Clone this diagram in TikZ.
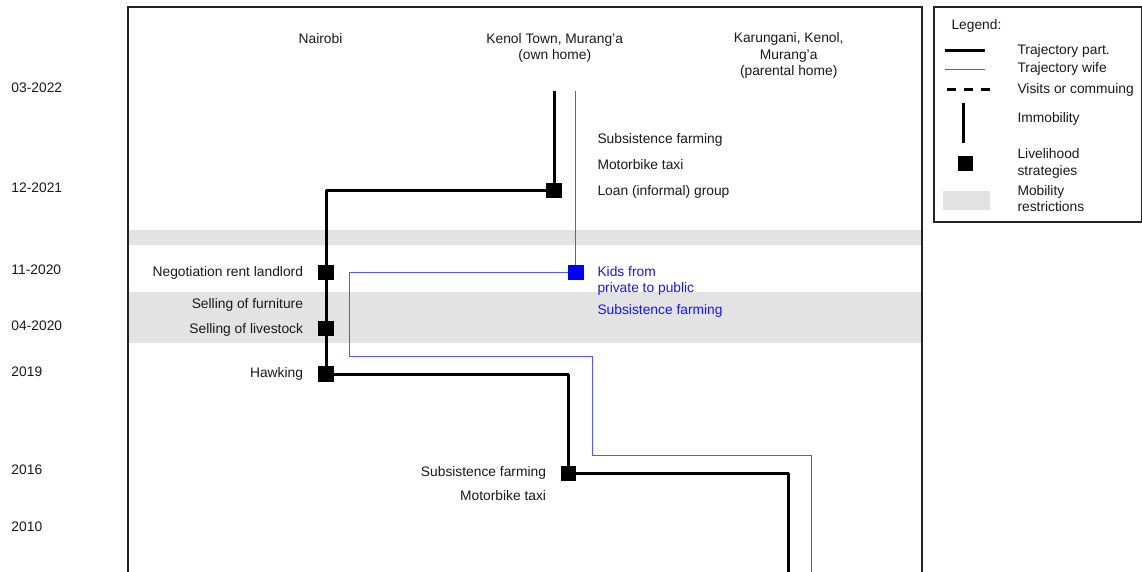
\documentclass[tikz,border=0pt]{standalone}
\usepackage{fontspec}
\setmainfont{Liberation Sans}
\definecolor{bandgray}{HTML}{E3E3E3}
\definecolor{wifeline}{RGB}{85,85,255}
\definecolor{wifetext}{RGB}{20,20,255}
\definecolor{framegray}{HTML}{222222}
\pgfdeclarelayer{bands}
\pgfdeclarelayer{links}
\pgfsetlayers{bands,links,main}
\begin{document}
\begin{tikzpicture}[x=1pt,y=-1pt,
  every node/.style={inner sep=0pt,outer sep=0pt,
    font=\fontsize{13.8}{16.3}\selectfont},
  multi/.style={align=center,anchor=north},
  txt/.style={text=black!90},
  wtxt/.style={text=wifetext},
  frameline/.style={draw=framegray,line width=1.3pt},
  traj/.style={draw=black,line width=3pt,line join=round},
  wife/.style={draw=wifeline,line width=1pt},
  strat/.style={fill=black,minimum size=15.5pt},
  wstrat/.style={fill=blue,minimum size=15.5pt},
  band/.style={fill=bandgray}]
\useasboundingbox (0,0) rectangle (1142,571);
\clip (0,0) rectangle (1142,571);

% restriction periods
\begin{pgfonlayer}{bands}
  \path[band] (128,229.5) rectangle (922,244.5);
  \path[band] (128,292) rectangle (922,343);
\end{pgfonlayer}

% time frame
\draw[frameline] (128,590) -- (128,7) -- (922,7) -- (922,590);

% places
\node[txt,anchor=base] (nairobi) at (320.5,43.3) {Nairobi};
\node[txt,multi] (kenol) at (554.7,33.4) {Kenol Town, Murang’a\\(own home)};
\node[txt,multi] (karungani) at (788.7,32.8) {Karungani, Kenol,\\Murang’a\\(parental home)};

% dates
\begin{scope}[every node/.append style={txt,anchor=base west}]
  \node (d1) at (11.5,92.3) {03-2022};
  \node (d2) at (11.5,192.3) {12-2021};
  \node (d3) at (11.5,274.5) {11-2020};
  \node (d4) at (11.5,330.7) {04-2020};
  \node (d5) at (11.5,376) {2019};
  \node (d6) at (11.5,474.5) {2016};
  \node (d7) at (11.5,531) {2010};
\end{scope}

% livelihood strategies of the participant
\node[strat] (loan) at (554,190.5) {};
\node[strat] (rent) at (326,272.3) {};
\node[strat] (sell) at (326,328.5) {};
\node[strat] (hawk) at (326,374) {};
\node[strat] (farm) at (568.5,473.5) {};

% livelihood strategy of the wife
\node[wstrat] (kids) at (575.8,272.3) {};

% strategy labels
\begin{scope}[every node/.append style={txt,anchor=base west}]
  \node (l1) at (597.5,143.3) {Subsistence farming};
  \node (l2) at (597.5,169.6) {Motorbike taxi};
  \node (l3) at (597.5,195.3) {Loan (informal) group};
\end{scope}
\begin{scope}[every node/.append style={txt,anchor=base east}]
  \node (l4) at (303,276.3) {Negotiation rent landlord};
  \node (l5) at (303,308.3) {Selling of furniture};
  \node (l6) at (303,333.3) {Selling of livestock};
  \node (l7) at (303,377.8) {Hawking};
  \node (l8) at (546,476.8) {Subsistence farming};
  \node (l9) at (546,500.5) {Motorbike taxi};
\end{scope}
\node[wtxt,align=left,anchor=north west] (w1) at (597.5,266.2) {Kids from\\private to public};
\node[wtxt,anchor=base west] (w2) at (597.5,314) {Subsistence farming};

% trajectory ends and bends
\coordinate (ptop) at (554,91);
\coordinate (pbot) at (788,590);
\coordinate (wtop) at (575.8,91);
\coordinate (wbendA) at (349.3,356);
\coordinate (wbendB) at (592,455);
\coordinate (wbot) at (811,590);

\begin{pgfonlayer}{links}
  \draw[traj] (ptop) -- (loan.center) -| (rent.center) -- (sell.center)
    -- (hawk.center) -| (farm.center) -| (pbot);
  \draw[wife] (wtop) -- (kids.center) -| (wbendA) -| (wbendB) -| (wbot);
\end{pgfonlayer}

% legend
\draw[frameline] (934,7) rectangle (1141.2,222);
\node[txt,anchor=base west] (lg) at (951.5,29.3) {Legend:};
\draw[line width=3pt] (945,50) -- (985,50);
\draw[wife] (945,69.3) -- (985,69.3);
\draw[line width=3pt,dash pattern=on 9.3pt off 7.7pt] (946.7,89.3) -- (990,89.3);
\draw[line width=3pt] (963.3,102.7) -- (963.3,142.7);
\path[fill=black] (957.5,155.5) rectangle (972.5,170.5);
\path[band] (943,190.5) rectangle (990,210);
\begin{scope}[every node/.append style={txt,anchor=base west}]
  \node (k1) at (1017.5,54.5) {Trajectory part.};
  \node (k2) at (1017.5,72) {Trajectory wife};
  \node (k3) at (1017.5,93.3) {Visits or commuing};
  \node (k4) at (1017.5,122) {Immobility};
\end{scope}
\node[txt,align=left,anchor=north west] (k5) at (1017.5,148.8) {Livelihood\\strategies};
\node[txt,align=left,anchor=north west] (k6) at (1017.5,185.2) {Mobility\\restrictions};
\end{tikzpicture}
\end{document}
